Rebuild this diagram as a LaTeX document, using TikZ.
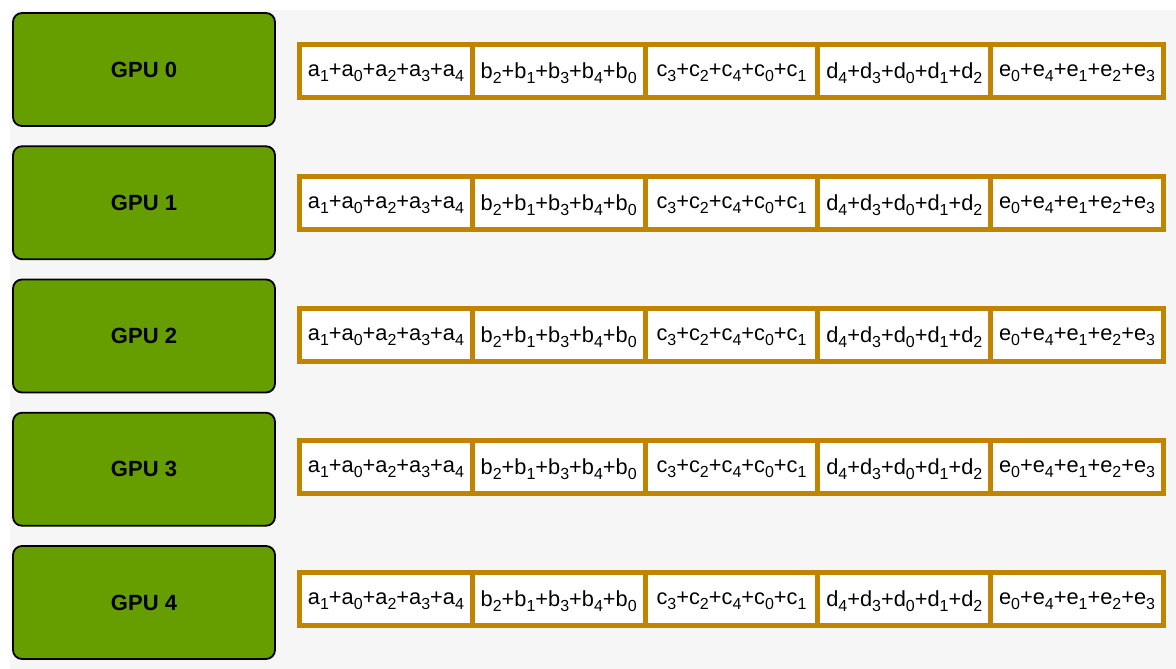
\documentclass[tikz,border=0pt]{standalone}
\usepackage{fontspec}
\setmainfont{Liberation Sans}
\usetikzlibrary{positioning}

\definecolor{gpugreen}{RGB}{102,158,0}
\definecolor{bufferorange}{RGB}{192,132,0}
\definecolor{paper}{RGB}{246,246,246}

\newcommand{\idx}[1]{\raisebox{-5pt}{\fontsize{16}{16}\selectfont #1}}
\newcommand{\redsum}[6]{#1\idx{#2}+#1\idx{#3}+#1\idx{#4}+#1\idx{#5}+#1\idx{#6}}

\tikzset{
    gpu/.style={draw=black, line width=1.8pt, fill=gpugreen, rounded corners=9pt,
        minimum width=262pt, minimum height=113pt, inner sep=0pt,
        font=\bfseries\fontsize{22}{24}\selectfont},
    chunk/.style={draw=bufferorange, line width=5pt, fill=white,
        minimum width=172.8pt, minimum height=53pt, inner sep=0pt, outer sep=0pt,
        text depth=1pt, font=\fontsize{21.8}{23}\selectfont}
}

\begin{document}
\begin{tikzpicture}[x=1pt,y=-1pt]
    \useasboundingbox (0,0) rectangle (1176,669);
    \fill[paper] (10,10) rectangle (1176,669);

    \foreach \i in {0,...,4}{
        \node[gpu] (gpu\i) at (144, 69.5+133.25*\i) {GPU \i};
        % reduced buffer, one chunk per letter
        \coordinate (row\i) at (299.5, 71+132*\i);
        \node[chunk, right=0pt of row\i] (a\i) {\redsum{a}{1}{0}{2}{3}{4}};
        \node[chunk, right=0pt of a\i.east] (b\i) {\redsum{b}{2}{1}{3}{4}{0}};
        \node[chunk, right=0pt of b\i.east] (c\i) {\redsum{c}{3}{2}{4}{0}{1}};
        \node[chunk, right=0pt of c\i.east] (d\i) {\redsum{d}{4}{3}{0}{1}{2}};
        \node[chunk, right=0pt of d\i.east] (e\i) {\redsum{e}{0}{4}{1}{2}{3}};
    }
\end{tikzpicture}
\end{document}
